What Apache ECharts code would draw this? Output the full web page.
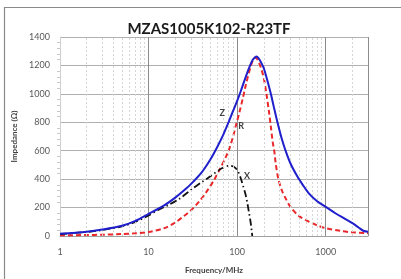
<!DOCTYPE html>
<html>
<head>
<meta charset="utf-8">
<script src="https://cdn.jsdelivr.net/npm/echarts@6/dist/echarts.min.js"></script>
<style>
  html, body { margin: 0; padding: 0; background: #fff; }
  #main { width: 401px; height: 279px; }
</style>
</head>
<body>
<div id="main"></div>
<script>
// impedance curves (MHz, ohm)
var zFreq = [1, 2, 3, 5, 7, 10, 15, 20, 25, 30, 40, 50, 60, 70, 80, 90, 100, 110, 125, 140, 150, 160, 165, 175, 185, 200, 220, 240, 260, 285, 320, 352, 400, 477, 550, 644, 800, 1000, 1285, 1600, 2000, 2350, 2700, 3000];
var zVals = [15, 30, 45, 72, 105, 155, 215, 270, 320, 365, 450, 540, 630, 715, 800, 880, 950, 1020, 1120, 1200, 1240, 1258, 1262, 1250, 1225, 1180, 1090, 1000, 905, 800, 680, 600, 510, 420, 360, 300, 245, 205, 160, 125, 90, 60, 35, 30];

var rFreq = [1, 2, 3, 5, 7, 10, 15, 20, 25, 30, 37.5, 45, 55, 65, 75, 81, 90, 97, 105, 115, 125, 143, 152, 160, 168, 184, 200, 214, 228, 240, 252, 262, 273, 292, 320, 352, 400, 500, 650, 800, 1000, 1500, 2000, 3000];
var rVals = [5, 7, 9, 14, 19, 28, 55, 95, 140, 180, 245, 310, 395, 480, 560, 610, 700, 780, 860, 960, 1060, 1200, 1240, 1255, 1245, 1190, 1110, 1000, 880, 770, 660, 600, 506, 400, 320, 265, 205, 140, 100, 75, 55, 35, 26, 20];

var xFreq = [1, 2, 3, 5, 7, 10, 13, 17, 22, 31, 40, 48.5, 58, 68, 78, 88, 96, 103, 110, 117, 124, 130, 136, 142, 146, 148];
var xVals = [14, 28, 42, 68, 98, 145, 185, 220, 260, 330, 380, 415, 450, 478, 493, 492, 478, 450, 405, 350, 295, 235, 165, 95, 35, 0];

var minorFreq = [2, 3, 4, 5, 6, 7, 8, 9, 20, 30, 40, 50, 60, 70, 80, 90, 200, 300, 400, 500, 600, 700, 800, 900, 2000];

function pairs(f, v) {
  var out = [];
  for (var i = 0; i < f.length; i++) {
    out.push([f[i], v[i]]);
  }
  return out;
}

var chart = echarts.init(document.getElementById('main'), null, { renderer: 'canvas' });

var labelFont = 'Lato, "Open Sans", sans-serif';

function curveLabel(text, coord) {
  return {
    symbol: 'circle', symbolSize: 0,
    label: { show: true, formatter: text, fontFamily: labelFont, fontSize: 9, fontWeight: 'bold', color: '#404040' },
    data: [{ coord: coord }]
  };
}

var option = {
  animation: false,
  backgroundColor: '#fff',
  title: {
    text: 'MZAS1005K102-R23TF',
    left: 204,
    top: 17,
    textAlign: 'center',
    textStyle: { fontFamily: labelFont, fontSize: 15, fontWeight: 'bold', color: '#1a1a1a' }
  },
  graphic: [{
    type: 'rect',
    silent: true,
    shape: { x: 4.5, y: 7.5, width: 500, height: 400 },
    style: { fill: 'none', stroke: '#8a8a8a', lineWidth: 1.2 }
  }],
  grid: { left: 60, right: 33, top: 37, bottom: 39 },
  xAxis: {
    type: 'log',
    logBase: 10,
    min: 1,
    max: 3000,
    name: 'Frequency/MHz',
    nameLocation: 'middle',
    nameGap: 30,
    nameTextStyle: { fontFamily: labelFont, fontSize: 8, fontWeight: 'bold', color: '#404040' },
    axisLine: { show: true, lineStyle: { color: '#a0a0a0' } },
    axisTick: { show: false },
    axisLabel: {
      margin: 12,
      fontFamily: labelFont, fontSize: 9, color: '#595959',
      showMaxLabel: false,
      formatter: function (v) { return String(v); }
    },
    splitLine: { show: true, lineStyle: { color: '#8c8c8c', width: 1 } }
  },
  yAxis: {
    type: 'value',
    min: 0,
    max: 1400,
    interval: 200,
    name: 'Impedance (\u03a9)',
    nameLocation: 'middle',
    nameGap: 37,
    nameTextStyle: { fontFamily: labelFont, fontSize: 8, fontWeight: 'bold', color: '#404040' },
    axisLine: { show: true, lineStyle: { color: '#d0d0d0' } },
    axisTick: { show: false },
    minorTick: { show: true, splitNumber: 5, length: 3, lineStyle: { color: '#c8c8c8' } },
    axisLabel: {
      margin: 10, fontFamily: labelFont, fontSize: 9, color: '#595959',
      formatter: function (v) { return String(v); }
    },
    splitLine: { show: true, lineStyle: { color: '#b0b0b0', width: 1 } }
  },
  series: [
    {
      name: 'grid-minor',
      type: 'line',
      data: [],
      silent: true,
      markLine: {
        silent: true,
        symbol: 'none',
        label: { show: false },
        lineStyle: { color: '#d6d6d6', type: [2, 2], width: 1 },
        data: minorFreq.map(function (f) { return { xAxis: f }; })
      }
    },
    {
      name: 'R',
      type: 'line',
      data: pairs(rFreq, rVals),
      smooth: 0.3,
      showSymbol: false,
      z: 3,
      lineStyle: { color: '#e8282a', width: 2, type: [5, 3] },
      markPoint: curveLabel('R', [111, 775])
    },
    {
      name: 'X',
      type: 'line',
      data: pairs(xFreq, xVals),
      smooth: 0.3,
      showSymbol: false,
      z: 4,
      lineStyle: { color: '#111', width: 1.8, type: [7, 3, 1.5, 3] },
      markPoint: curveLabel('X', [129, 420])
    },
    {
      name: 'Z',
      type: 'line',
      data: pairs(zFreq, zVals),
      smooth: 0.3,
      showSymbol: false,
      z: 5,
      lineStyle: { color: '#1f1fcc', width: 2 },
      markPoint: curveLabel('Z', [68, 862])
    }
  ]
};

chart.setOption(option);
</script>
</body>
</html>
